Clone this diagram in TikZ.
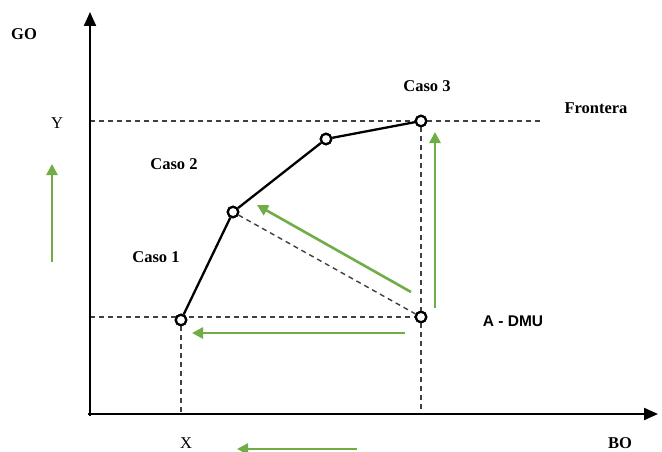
\documentclass[tikz,border=0pt]{standalone}
\usepackage{fontspec}
\setmainfont{Liberation Serif}
\setsansfont{Liberation Sans}
\usetikzlibrary{arrows.meta}
\definecolor{dmugreen}{HTML}{70AD47}

\begin{document}
\begin{tikzpicture}[
  x=1pt,
  y=-1pt,
  line join=round,
  axis/.style={draw=black,line width=2.2pt,-{Triangle[length=14pt,width=12pt]}},
  frontier/.style={draw=black,line width=2.3pt},
  guide/.style={draw=black!75,line width=1.4pt,dash pattern=on 5pt off 4pt},
  greenarrow/.style={draw=dmugreen,line width=2.6pt,-{Triangle[length=11pt,width=11pt]}},
  dmu/.style={circle,draw=black,line width=2.2pt,fill=white,inner sep=0pt,minimum size=10.5pt},
  lbl/.style={font=\fontsize{16.5}{19}\selectfont\bfseries},
  ticklbl/.style={font=\fontsize{16.5}{19}\selectfont}
]
  \useasboundingbox (0,0) rectangle (662,452);

  % Axes origin and tips.
  \coordinate (O) at (90,414);
  \coordinate (yTip) at (90,12);
  \coordinate (xTip) at (658,414);

  % Frontier points and the evaluated unit.
  \node[dmu] (p1) at (181,320) {};
  \node[dmu] (p2) at (233,212) {};
  \node[dmu] (p3) at (326,139) {};
  \node[dmu] (p4) at (421,121) {};
  \node[dmu] (a) at (421,317) {};
  \coordinate (frontEnd) at (542,121);

  % Dashed projections onto the axes.
  \draw[guide] (O |- p4) -- (p4);
  \draw[guide] (p4) -- (frontEnd);
  \draw[guide] (O |- a) -- (a);
  \draw[guide] (p1) -- (p1 |- O);
  \draw[guide] (p4) -- (a);
  \draw[guide] (a) -- (a |- O);
  \draw[guide] (p2) -- (a);

  % Axes.
  \draw[axis] (88,414) -- (xTip);
  \draw[axis] (90,416) -- (yTip);

  % Efficient frontier.
  \draw[frontier] (p1) -- (p2) -- (p3) -- (p4);
  \foreach \p in {p1,p2,p3,p4,a} {
    \node[dmu] at (\p) {};
  }

  % Green arrows toward the frontier.
  \coordinate (g1s) at (52,262);  \coordinate (g1e) at (52,164);
  \coordinate (g2s) at (435,308); \coordinate (g2e) at (435,132);
  \coordinate (g3s) at (411,292); \coordinate (g3e) at (257,205);
  \coordinate (g4s) at (405,333); \coordinate (g4e) at (192,333);
  \coordinate (g5s) at (357,449); \coordinate (g5e) at (237,449);
  \foreach \i in {1,...,5} {
    \draw[greenarrow] (g\i s) -- (g\i e);
  }

  % Labels.
  \node[lbl] (goLbl) at (24,34) {GO};
  \node[ticklbl] (yLbl) at (57,123) {Y};
  \node[ticklbl] (xLbl) at (186,443) {X};
  \node[lbl] (boLbl) at (620,443) {BO};
  \node[lbl] (caso1) at (156,257) {Caso 1};
  \node[lbl] (caso2) at (174,164) {Caso 2};
  \node[lbl] (caso3) at (427,86) {Caso 3};
  \node[lbl] (front) at (596,108) {Frontera};
  \node[lbl,font=\fontsize{15.5}{19}\selectfont\sffamily\bfseries] (dmuLbl) at (513,321) {A - DMU};
\end{tikzpicture}
\end{document}
